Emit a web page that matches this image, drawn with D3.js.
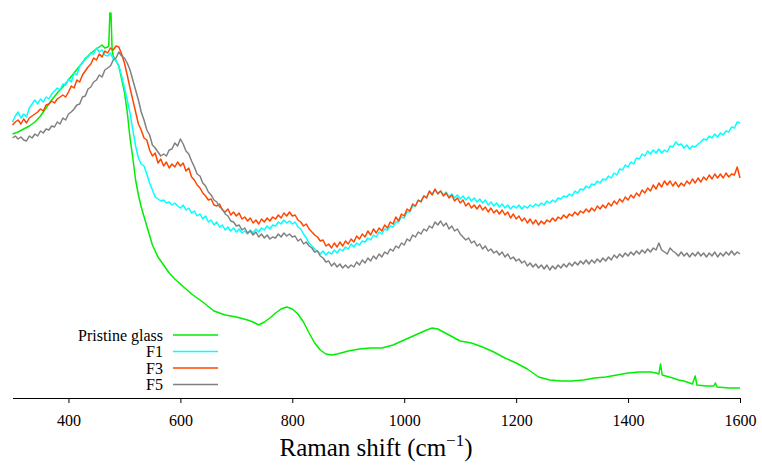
<!DOCTYPE html>
<html><head><meta charset="utf-8">
<script src="https://cdn.jsdelivr.net/npm/d3@7"></script>
<style>body{margin:0;background:#fff}svg{display:block}</style>
</head><body>
<script>
// ---- DATA (Raman intensity, arbitrary units) ----
const seriesNames = ["Pristine glass", "F1", "F3", "F5"];
const seriesColors = ["#00ee00", "#00ffff", "#ff4500", "#808080"];
const xTicks = [400, 600, 800, 1000, 1200, 1400, 1600];
const xLabel = "Raman shift (cm";

// Pristine glass: explicit wavenumbers
const pristineShift = [300,310,320,330,340,350,360,370,380,390,400,410,420,430,440,450,
 455,460,465,470,472,474,476,478,480, 490,500, 505,510,515,520,525,530,
 540,550,560,570,580,590,600, 620,640,660,680,700,720,
 730,740,750,760,770,780,790,800,810,820,830,840,850,860,870,880,
 900,920,940,960,980,1000,1020,1040, 1050,1060,
 1080,1100,1120,1140,1160,1180,1200,1220,1240,1260,1280,1300,1320,1340,1360,1380,1400,1420,1440,
 1450,1455,1458,1461, 1480,1490,1500,1515,1520,1523, 1540,1553,1556,1559,1580,1600];
const pristine = [266,268,271,274,278,284,292,300,307,313,320,327,334,341,347,351,
 353,355,352,353,354,387,387,350,344, 334,308, 288,262,242,220,205,193,
 174,155,143,135,127,121,116, 106,98,89,85,83,80,
 78,75,78,82,87,91,93,91,86,78,67,57,50,46,45,46,
 49,51,52,52,55,60,65,70, 72,71,
 65,59,57,53,48,42,37,31,23,20,19,19,20,22,23,25,27,28,28,
 27,26,36,25, 22,20,19,16,24,15, 14,14,17,13,12,12];

// F1, F3, F5 sampled every 5 cm-1 from 300 to 1600
const shiftStart = 300, shiftStep = 5;
const f1 = [
 278,284,288,282,286,283,292,296,300,296,301,298,303,301,306,309,312,310,316,315,
 321,318,327,325,334,337,342,343,347,346,352,348,350,345,344,347,341,340,334,324,
 312,300,287,270,254,242,236,234,226,217,210,203,201,199,200,197,198,195,197,194,
 192,195,190,192,187,189,184,186,181,184,178,180,175,178,173,175,170,173,169,172,
 168,171,167,169,166,170,167,171,168,172,170,174,171,175,174,178,176,180,177,179,
 176,178,173,171,166,162,157,154,151,149,146,149,145,148,146,150,147,151,149,153,
 151,156,153,157,155,159,158,162,160,165,163,168,166,171,170,174,173,178,178,183,
 182,188,188,194,194,199,199,204,203,208,206,210,207,209,205,208,203,206,202,205,
 201,204,200,203,199,202,198,201,197,200,195,198,194,197,193,196,192,195,191,194,
 192,195,191,194,192,195,193,196,194,197,195,199,197,200,198,202,201,204,203,206,
 204,209,207,211,210,214,212,216,215,219,217,221,220,224,222,227,225,231,230,235,
 233,238,236,242,241,246,244,249,246,250,247,251,247,250,248,254,253,258,255,256,
 252,255,251,254,253,256,258,261,260,264,262,266,263,267,265,269,268,273,272,278,
 277];
const f3 = [
 275,278,280,276,281,277,282,284,286,288,291,289,295,296,299,297,301,303,305,303,
 308,314,312,320,318,325,329,333,336,342,340,346,343,349,347,352,350,354,353,346,
 337,325,312,300,288,276,270,262,260,250,244,247,237,241,234,238,232,236,233,238,
 234,237,229,232,223,220,215,212,207,204,200,201,195,194,196,190,188,191,185,188,
 184,187,181,183,179,182,177,180,176,181,178,182,179,183,181,185,182,187,184,188,
 184,185,180,178,174,176,171,168,165,163,159,160,154,156,152,157,153,158,154,159,
 156,161,158,164,161,166,163,169,165,171,167,172,169,175,172,178,176,183,179,186,
 184,191,189,196,194,200,198,204,202,209,205,211,206,209,204,207,202,205,199,202,
 197,200,194,197,192,195,191,195,190,193,188,192,187,190,186,190,185,188,182,186,
 181,184,179,182,177,181,176,180,175,179,176,180,178,182,179,183,181,185,182,186,
 184,188,185,189,187,191,188,192,189,194,191,195,192,197,194,199,196,201,198,203,
 200,205,202,207,204,210,207,212,209,215,211,217,213,219,215,219,214,218,213,217,
 214,219,216,221,217,222,218,223,220,225,221,226,222,226,222,227,223,226,225,233,
 222];
const f5 = [
 262,264,261,263,260,259,264,262,266,264,269,267,271,270,274,273,278,276,282,280,
 286,288,291,295,296,303,304,311,313,318,320,325,323,330,332,334,340,342,348,344,
 342,337,330,320,310,300,288,280,270,265,255,252,248,244,246,244,250,251,257,254,
 261,256,249,246,239,233,226,224,217,214,208,205,200,198,193,191,186,184,179,178,
 174,175,170,172,167,169,165,168,163,166,162,165,161,163,162,166,163,167,164,166,
 163,164,159,161,156,158,154,152,148,149,144,142,138,139,134,137,133,136,132,135,
 132,135,133,138,135,140,137,142,139,144,141,146,143,148,146,151,149,154,152,157,
 155,161,159,165,163,168,166,171,169,174,172,178,175,179,174,177,171,174,169,171,
 166,163,160,162,157,159,154,156,151,154,149,151,147,149,145,148,143,146,141,143,
 139,141,137,139,134,137,133,136,132,135,131,135,130,134,131,135,132,136,133,137,
 134,138,135,139,136,140,136,140,137,141,138,142,139,143,140,145,142,146,143,147,
 144,148,145,149,146,150,147,151,148,152,150,157,150,148,146,152,149,147,144,148,
 144,147,143,147,144,148,144,147,143,147,144,148,143,147,144,148,145,149,145,148,
 146];

// ---- CHART ----
const W = 762, H = 466;
const svg = d3.select("body").append("svg").attr("width", W).attr("height", H);
const x = d3.scaleLinear().domain([300, 1600]).range([12.5, 740]);
const y = d3.scaleLinear().domain([0, 400]).range([400, 0]);
const axisY = 398;

const toPts = (vals, xs) => vals.map((v, i) => [xs ? xs[i] : shiftStart + i * shiftStep, v]);
const series = [
  toPts(pristine, pristineShift),
  toPts(f1),
  toPts(f3),
  toPts(f5)
];
const line = d3.line().x(d => x(d[0])).y(d => y(d[1]));

series.forEach((pts, i) => {
  svg.append("path").datum(pts)
    .attr("fill", "none")
    .attr("stroke", seriesColors[i])
    .attr("stroke-width", 1.5)
    .attr("stroke-linejoin", "round")
    .attr("d", line);
});

// x axis
const ax = svg.append("g").attr("transform", `translate(0,${axisY})`)
  .call(d3.axisBottom(x).tickValues(xTicks).tickSize(5).tickSizeOuter(0).tickPadding(12).tickFormat(d3.format("d")));
ax.select(".domain").attr("stroke", "#000").attr("stroke-width", 1);
ax.selectAll(".tick line").attr("stroke", "#000");
ax.selectAll("text").attr("font-family", "'Liberation Serif', 'Times New Roman', serif")
  .attr("font-size", 16).attr("fill", "#000");

// axis title
const t = svg.append("text").attr("x", 376).attr("y", 456)
  .attr("text-anchor", "middle")
  .attr("font-family", "'Liberation Serif', 'Times New Roman', serif")
  .attr("font-size", 25).attr("fill", "#000");
t.append("tspan").text(xLabel);
t.append("tspan").attr("font-size", 17).attr("dy", -10).text("\u22121");
t.append("tspan").attr("dy", 10).text(")");

// legend
const legY0 = 335, legDy = 16.5;
seriesNames.forEach((name, i) => {
  const yy = legY0 + i * legDy;
  svg.append("text").attr("x", 163).attr("y", yy + 5.5)
    .attr("text-anchor", "end")
    .attr("font-family", "'Liberation Serif', 'Times New Roman', serif")
    .attr("font-size", 16).attr("fill", "#000").text(name);
  svg.append("line").attr("x1", 173).attr("x2", 218).attr("y1", yy).attr("y2", yy)
    .attr("stroke", seriesColors[i]).attr("stroke-width", 1.5);
});
</script>
</body></html>
